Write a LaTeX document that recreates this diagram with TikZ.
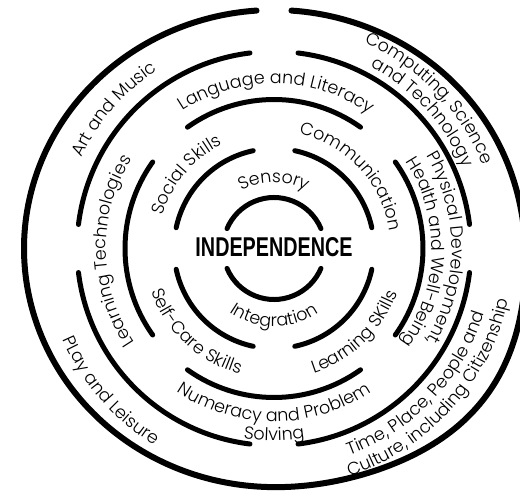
\documentclass[tikz,border=0pt]{standalone}
\usepackage{fontspec}
\usepackage{graphicx}
\usetikzlibrary{decorations.text}
\IfFontExistsTF{Poppins Light}
  {\newfontfamily\lblfam{Poppins Light}}
  {\newfontfamily\lblfam{Poppins}}
\newfontfamily\corefam{Liberation Sans}
\newcommand{\lblfont}{\lblfam\fontsize{17.5}{20}\selectfont}
\tikzset{
  ring/.style={line width=5pt, line cap=round},
  rimline/.style={line width=6pt, line cap=round},
  lbl/.style={decorate, decoration={text along path, text align=center, text={|\lblfont|#1}}},
  core/.style={font=\corefam\bfseries, inner sep=0pt}
}

\begin{document}
\begin{tikzpicture}
    \useasboundingbox (-274pt,-246.5pt) rectangle (246pt,248.5pt);
    \clip (-274pt,-246.5pt) rectangle (246pt,248.5pt);

    \node[core] (core) at (0pt,1pt) {\resizebox{157pt}{19pt}{INDEPENDENCE}};

    % rings
    \draw[ring] (23:51pt) arc[start angle=23, end angle=157, radius=51pt];
    \draw[ring] (203:51pt) arc[start angle=203, end angle=337, radius=51pt];
    \foreach \a in {45,135,225,315} {
      \draw[ring] ({\a-33}:100pt) arc[start angle=\a-33, end angle=\a+33, radius=100pt];
      \draw[ring] ({\a-38}:197pt) arc[start angle=\a-38, end angle=\a+38, radius=197pt];
    }
    \foreach \a in {0,90,180,270}
      \draw[ring] ({\a-35.5}:149pt) arc[start angle=\a-35.5, end angle=\a+35.5, radius=149pt];
    % outer rim, a little wider to the lower right
    \draw[rimline] plot[domain=94:446, samples=240, smooth]
      ({(1+0.05*max(0,cos(\x-322))^9)*250pt*cos(\x)}, {(1+0.05*max(0,cos(\x-322))^9)*238.5pt*sin(\x)});

    % inner band
    \path[lbl={Sensory}] (160:66pt) arc[start angle=160, end angle=20, radius=66pt];
    \path[lbl={Integration}] (200:78pt) arc[start angle=200, end angle=340, radius=78pt];

    % second band
    \path[lbl={Social Skills}] (190:116pt) arc[start angle=190, end angle=90, radius=116pt];
    \path[lbl={Communication}] (93:117pt) arc[start angle=93, end angle=-7, radius=117pt];
    \path[lbl={Learning SKills}] (-96:131pt) arc[start angle=-96, end angle=4, radius=131pt];
    \path[lbl={Self-Care Skills}] (177:130pt) arc[start angle=177, end angle=277, radius=130pt];

    % third band
    \path[lbl={Language and Literacy}] (150:165pt) arc[start angle=150, end angle=28, radius=165pt];
    \path[lbl={Learning Technologies}] (240:168pt) arc[start angle=240, end angle=122, radius=168pt];
    \path[lbl={Numeracy and Problem}] (210:173pt) arc[start angle=210, end angle=330, radius=173pt];
    \path[lbl={Solving}] (240:192pt) arc[start angle=240, end angle=300, radius=192pt];
    \path[lbl={Physical Development,}] (60:178pt) arc[start angle=60, end angle=-60, radius=178pt];
    \path[lbl={Health and Well-Being}] (58:158pt) arc[start angle=58, end angle=-61, radius=158pt];

    % outer band
    \path[lbl={Art and Music}] (185:213pt) arc[start angle=185, end angle=93, radius=213pt];
    \path[lbl={Computing, Science}] (90:225pt) arc[start angle=90, end angle=-2, radius=225pt];
    \path[lbl={and Technology}] (88:206pt) arc[start angle=88, end angle=-3, radius=206pt];
    \path[lbl={Time, Place, People and}] (-90:220pt) arc[start angle=-90, end angle=3, radius=220pt];
    \path[lbl={Culture, including Citizenship}] (-90:240pt) arc[start angle=-90, end angle=6, radius=240pt];
    \path[lbl={PLay and Leisure}] (180:230pt) arc[start angle=180, end angle=262, radius=230pt];
\end{tikzpicture}
\end{document}
